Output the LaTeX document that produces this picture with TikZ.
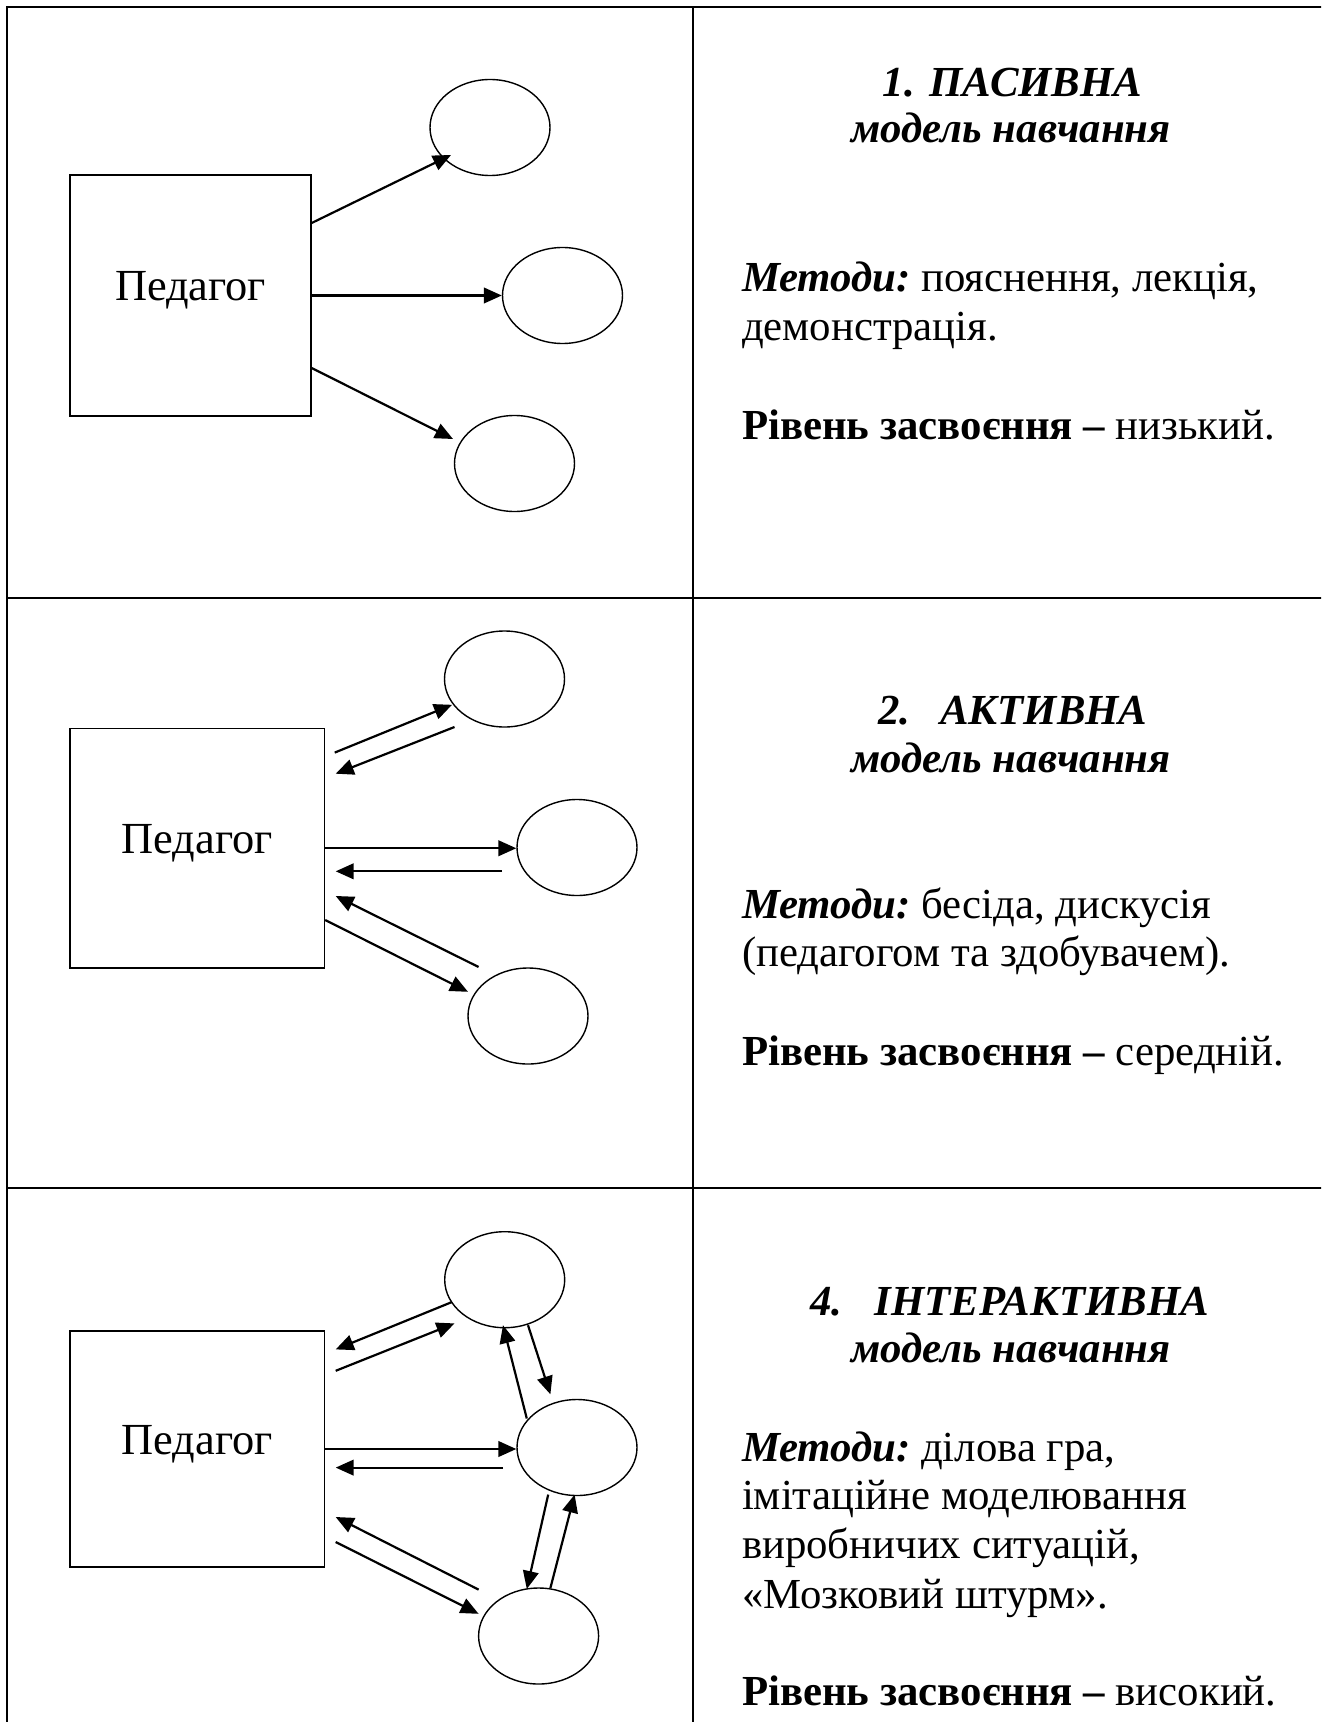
\documentclass[tikz,border=0pt]{standalone}
\usepackage{fontspec}
\setmainfont{Liberation Serif}
\usetikzlibrary{arrows.meta,shapes.geometric,calc}
\newcommand{\metlabel}{{\bfseries\itshape Методи:}\hspace{-0.09em}}
\begin{document}
\begin{tikzpicture}[x=0.5pt,y=-0.5pt,
  grid/.style={line width=1pt},
  teacher/.style={draw, line width=0.7pt, inner sep=0pt, text height=10pt, text depth=5pt,
    font=\fontsize{22.2}{25}\selectfont},
  pupil/.style={draw, ellipse, line width=0.7pt, minimum width=60pt, minimum height=48pt, inner sep=0pt},
  link/.style={line width=1.1pt, -{Triangle[length=9pt,width=7.8pt]}},
  txt/.style={inner sep=0pt, font=\fontsize{21.4}{24.6}\selectfont},
  ttl/.style={txt, font=\fontsize{21.4}{24.6}\selectfont\bfseries\itshape},
]
\useasboundingbox (0,0) rectangle (1321,1722);
\clip (0,0) rectangle (1321,1722);

% table
\draw[grid] (7.3,1740) -- (7.3,7.3) -- (1340,7.3);
\draw[grid] (693.3,7.3) -- (693.3,1740);
\draw[grid] (7.3,597.7) -- (1340,597.7);
\draw[grid] (7.3,1188) -- (1340,1188);

% ---------- row 1 ----------
\node[teacher, minimum width=120.5pt, minimum height=120.5pt] (sq1) at (190.5,295.5) {Педагог};
\node[pupil] (e1) at (490,127.5) {};
\node[pupil] (e2) at (562.5,295.5) {};
\node[pupil] (e3) at (514.5,463.5) {};
\draw[link] ($(sq1.east)+(0,-72.5)$) -- ($(e1)+(-39,27.5)$);
\draw[link] (sq1.east) -- (sq1.east -| e2.west);
\draw[link] ($(sq1.east)+(0,72.5)$) -- ($(e3)+(-61.5,-24.5)$);

\node[ttl, anchor=base] (t1) at (1012.5,97) {1. ПАСИВНА};
\node[ttl, anchor=base] (s1) at (1011,142.6) {модель навчання};
\node[txt, anchor=base west] (m1a) at (741.6,292) {\metlabel{} пояснення, лекція,};
\node[txt, anchor=base west] (m1b) at (741.6,340.6) {демонстрація.};
\node[txt, anchor=base west] (r1) at (741.6,439.6) {{\bfseries Рівень засвоєння –} низький.};

% ---------- row 2 ----------
\node[teacher, minimum width=127.25pt, minimum height=119.75pt] (sq2) at (197.25,848.25) {Педагог};
\node[pupil] (f1) at (504.5,679) {};
\node[pupil] (f2) at (577,847.5) {};
\node[pupil] (f3) at (528,1016) {};
\draw[link] ($(sq2.east)+(9.5,-95.65)$) -- ($(f1)+(-52.5,25.8)$);
\draw[link] ($(f1)+(-50,48)$) -- ($(sq2.east)+(10.5,-74.55)$);
\draw[link] (sq2.east) -- (sq2.east -| f2.west);
\draw[link] ($(f2)+(-75,23.8)$) -- ($(sq2.east)+(10.5,23.05)$);
\draw[link] ($(f3)+(-49.4,-49)$) -- ($(sq2.east)+(10.5,47.75)$);
\draw[link] ($(sq2.east)+(0,71.75)$) -- ($(f3)+(-60,-24.2)$);

\node[ttl, anchor=base west] (t2n) at (878,724.7) {2.};
\node[ttl, anchor=base west] (t2) at (939.6,724.7) {АКТИВНА};
\node[ttl, anchor=base] (s2) at (1011,772) {модель навчання};
\node[txt, anchor=base west] (m2a) at (741.6,918.7) {\metlabel{} бесіда, дискусія};
\node[txt, anchor=base west] (m2b) at (741.6,966) {(педагогом та здобувачем).};
\node[txt, anchor=base west] (r2) at (741.6,1065) {{\bfseries Рівень засвоєння –} середній.};

% ---------- row 3 ----------
\node[teacher, minimum width=127.25pt, minimum height=118pt] (sq3) at (197.25,1449) {Педагог};
\node[pupil] (g1) at (504.7,1279.7) {};
\node[pupil] (g2) at (577,1447.5) {};
\node[pupil] (g3) at (538.6,1636) {};
\draw[link] ($(g1)+(-52.7,22.3)$) -- ($(sq3.east)+(10.5,-99.6)$);
\draw[link] ($(sq3.east)+(10.5,-78.2)$) -- ($(g1)+(-50.2,43.7)$);
\draw[link] (sq3.east) -- (sq3.east -| g2.west);
\draw[link] ($(g2)+(-74,20.1)$) -- ($(sq3.east)+(10.5,18.6)$);
\draw[link] ($(g3)+(-60,-46.4)$) -- ($(sq3.east)+(10.5,68)$);
\draw[link] ($(sq3.east)+(10.5,93)$) -- ($(g3)+(-60,-22.2)$);
\draw[link] ($(g2)+(-50.2,-29)$) -- ($(g1)+(-1.7,45.5)$);
\draw[link] ($(g1)+(23.3,45.5)$) -- ($(g2)+(-26.6,-53.2)$);
\draw[link] ($(g2)+(-28.8,47.1)$) -- ($(g3)+(-11.8,-47)$);
\draw[link] ($(g3)+(11.8,-48)$) -- ($(g2)+(-2.4,47.1)$);

\node[ttl, anchor=base west] (t3n) at (810,1315) {4.};
\node[ttl, anchor=base west] (t3) at (874,1315) {ІНТЕРАКТИВНА};
\node[ttl, anchor=base] (s3) at (1011,1362.4) {модель навчання};
\node[txt, anchor=base west] (m3a) at (741.6,1461.4) {\metlabel{} ділова гра,};
\node[txt, anchor=base west] (m3b) at (741.6,1509) {імітаційне моделювання};
\node[txt, anchor=base west] (m3c) at (741.6,1558.4) {виробничих ситуацій,};
\node[txt, anchor=base west] (m3d) at (741.6,1608) {«Мозковий штурм».};
\node[txt, anchor=base west] (r3) at (741.6,1705) {{\bfseries Рівень засвоєння –} високий.};
\end{tikzpicture}
\end{document}
